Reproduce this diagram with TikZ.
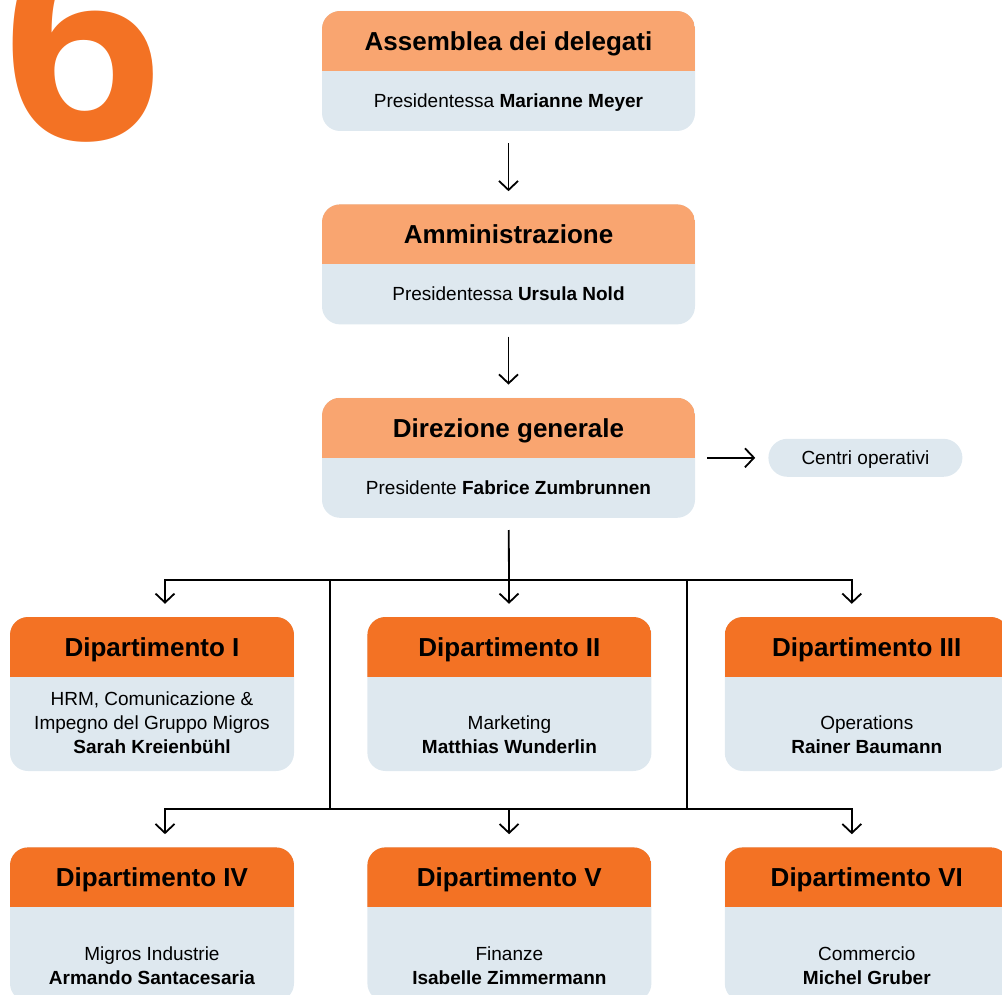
\documentclass[tikz,border=0pt]{standalone}
\usepackage{fontspec}
\setmainfont{Liberation Sans}
\usepackage{tikz}
\usetikzlibrary{arrows.meta, positioning}
\definecolor{headlight}{RGB}{249,165,112}
\definecolor{headdark}{RGB}{243,114,36}
\definecolor{bodyblue}{RGB}{222,232,239}

\begin{document}
\begin{tikzpicture}[
    x=1pt, y=-1pt,
    box/.style={fill=bodyblue, rounded corners=18pt, inner sep=0pt,
        path picture={\fill[#1, sharp corners] (path picture bounding box.north west) rectangle ([yshift=-60pt]path picture bounding box.north east);}},
    topbox/.style={box=headlight, minimum width=373pt, minimum height=120pt},
    deptbox/.style={box=headdark, minimum width=284pt, minimum height=154pt},
    title/.style={minimum height=60pt, inner sep=0pt, text height=18.6pt, text depth=0pt, font=\fontsize{26}{30}\selectfont\bfseries},
    person/.style={inner sep=0pt, align=center, font=\fontsize{19}{24}\selectfont},
    pill/.style={fill=bodyblue, rounded corners=19pt, minimum width=194pt, minimum height=38pt, inner sep=0pt, text height=13.6pt, text depth=0pt, font=\fontsize{19}{24}\selectfont},
    link/.style={line width=1.8pt},
    arrow/.style={link, -{Straight Barb[length=9pt,width=19pt]}, shorten >=13pt}
]
    \useasboundingbox (0,0) rectangle (1002,995);
    \clip (0,0) rectangle (1002,995);

    \node[anchor=base west, inner sep=0pt, text=headdark, font=\fontsize{290}{290}\selectfont\bfseries] (six) at (2,140) {6};

    % top chain
    \node[topbox] (ass) at (508.5,71) {};
    \node[title, below=0pt of ass.north] (asst) {Assemblea dei delegati};
    \node[person, anchor=base] (assp) at ([yshift=24pt]ass.south) {Presidentessa \textbf{Marianne Meyer}};

    \node[topbox, below=73pt of ass] (adm) {};
    \node[title, below=0pt of adm.north] (admt) {Amministrazione};
    \node[person, anchor=base] (admp) at ([yshift=24pt]adm.south) {Presidentessa \textbf{Ursula Nold}};

    \node[topbox, below=73pt of adm] (dir) {};
    \node[title, below=0pt of dir.north] (dirt) {Direzione generale};
    \node[person, anchor=base] (dirp) at ([yshift=24pt]dir.south) {Presidente \textbf{Fabrice Zumbrunnen}};

    \node[pill, right=73pt of dir] (ops) {Centri operativi};

    % departments
    \node[deptbox] (dep1) at (152,694) {};
    \node[deptbox, right=73pt of dep1] (dep2) {};
    \node[deptbox, right=73pt of dep2] (dep3) {};
    \node[deptbox, below=76pt of dep1] (dep4) {};
    \node[deptbox, right=73pt of dep4] (dep5) {};
    \node[deptbox, right=73pt of dep5] (dep6) {};

    \node[title, below=0pt of dep1.north] (dep1t) {Dipartimento I};
    \node[title, below=0pt of dep2.north] (dep2t) {Dipartimento II};
    \node[title, below=0pt of dep3.north] (dep3t) {Dipartimento III};
    \node[title, below=0pt of dep4.north] (dep4t) {Dipartimento IV};
    \node[title, below=0pt of dep5.north] (dep5t) {Dipartimento V};
    \node[title, below=0pt of dep6.north] (dep6t) {Dipartimento VI};

    \node[person, anchor=south] (dep1p) at ([yshift=17pt]dep1.south) {HRM, Comunicazione \&\\Impegno del Gruppo Migros\\\textbf{Sarah Kreienbühl}};
    \node[person, anchor=south] (dep2p) at ([yshift=17pt]dep2.south) {Marketing\\\textbf{Matthias Wunderlin}};
    \node[person, anchor=south] (dep3p) at ([yshift=17pt]dep3.south) {Operations\\\textbf{Rainer Baumann}};
    \node[person, anchor=south] (dep4p) at ([yshift=17pt]dep4.south) {Migros Industrie\\\textbf{Armando Santacesaria}};
    \node[person, anchor=south] (dep5p) at ([yshift=17pt]dep5.south) {Finanze\\\textbf{Isabelle Zimmermann}};
    \node[person, anchor=south] (dep6p) at ([yshift=17pt]dep6.south) {Commercio\\\textbf{Michel Gruber}};

    % connectors
    \coordinate (bus1) at (509,580);
    \coordinate (bus2) at (509,809);
    \coordinate (spl) at (330,580);
    \coordinate (spr) at (687,580);

    \draw[arrow, shorten <=12pt] (ass) -- (adm);
    \draw[arrow, shorten <=12pt] (adm) -- (dir);
    \draw[arrow, shorten <=12pt] (dir) -- (ops);
    \draw[arrow, shorten <=12pt] (dir) -- (dep2);
    \draw[arrow] (bus1) -| ([xshift=13pt]dep1.north);
    \draw[arrow] (bus1) -| ([xshift=-15pt]dep3.north);
    \draw[link] (spl) -- (spl |- bus2);
    \draw[link] (spr) -- (spr |- bus2);
    \draw[arrow] (bus2) -- (dep5);
    \draw[arrow] (bus2) -| ([xshift=13pt]dep4.north);
    \draw[arrow] (bus2) -| ([xshift=-15pt]dep6.north);
\end{tikzpicture}
\end{document}
